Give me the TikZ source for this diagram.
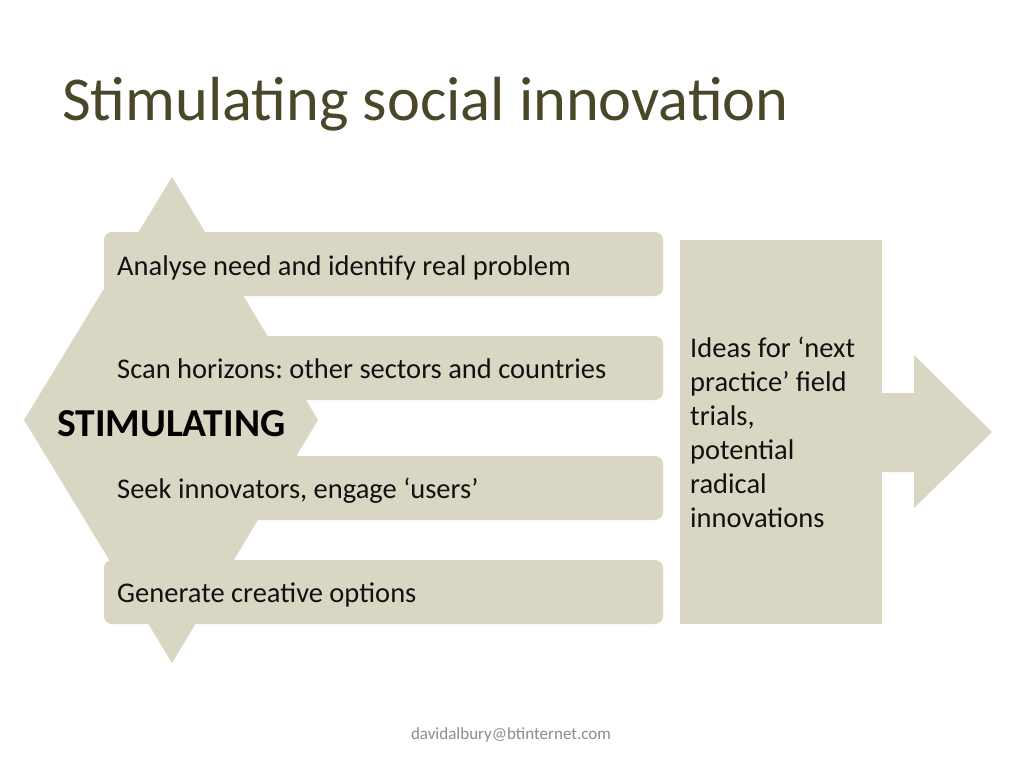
\documentclass[tikz,border=0pt]{standalone}
\usepackage{fontspec}
\setmainfont{Carlito}
\frenchspacing
\definecolor{beige}{HTML}{D9D7C4}
\definecolor{titlecol}{HTML}{4A4729}
\definecolor{txt}{HTML}{111111}
\definecolor{foot}{HTML}{8C8C8C}
\begin{document}
\begin{tikzpicture}[x=1bp,y=-1bp,
  boxshape/.style={fill=beige, draw=none, rounded corners=8bp},
  itemtext/.style={anchor=base west, inner sep=0pt, text=txt, font=\fontsize{28.5bp}{34bp}\selectfont\frenchspacing}]
\useasboundingbox (0,0) rectangle (1024,768);
\fill[white] (0,0) rectangle (1024,768);
% title
\node[anchor=base west, inner sep=0pt, text=titlecol, font=\fontsize{62.4bp}{70bp}\selectfont] (title) at (62,120) {Stimulating social innovation};
% rhombus
\fill[beige] (172,177) -- (318,420) -- (172,663) -- (24,420) -- cycle;
% boxes
\fill[boxshape] (104,232) rectangle (663,296);
\fill[boxshape] (104,336) rectangle (663,400);
\fill[boxshape] (104,456) rectangle (663,520);
\fill[boxshape] (104,560) rectangle (663,624);
\node[itemtext] (t1) at (117,275) {Analyse need and identify real problem};
\node[itemtext] (t2) at (117,378) {Scan horizons: other sectors and countries};
\node[itemtext] (t3) at (117,498) {Seek innovators, engage ‘users’};
\node[itemtext] (t4) at (117,602) {Generate creative options};
\node[anchor=base west, inner sep=0pt, text=black, font=\bfseries\fontsize{39.6bp}{46bp}\selectfont] (stim) at (57,436) {STIMULATING};
% right box and arrow
\fill[beige] (680,240) rectangle (882,624);
\fill[beige] (880,393) -- (914,393) -- (914,355) -- (992,432) -- (914,508) -- (914,472) -- (880,472) -- cycle;
\node[anchor=base west, inner sep=0pt, text=txt, align=left, font=\fontsize{28.5bp}{34bp}\selectfont] (ideas) at (690,527) {Ideas for ‘next\\practice’ field\\trials,\\potential\\radical\\innovations};
% footer
\node[anchor=base, inner sep=0pt, text=foot, font=\fontsize{17bp}{20bp}\selectfont] (footer) at (511,739) {davidalbury@btinternet.com};
\end{tikzpicture}
\end{document}
